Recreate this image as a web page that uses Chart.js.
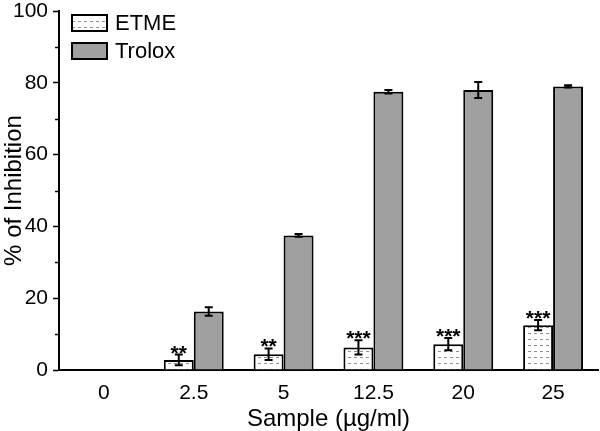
<!DOCTYPE html>
<html>
<head>
<meta charset="utf-8">
<script src="https://cdn.jsdelivr.net/npm/chart.js@4/dist/chart.umd.min.js"></script>
<style>
  html, body { margin: 0; padding: 0; background: #fff; }
  #wrap { width: 600px; height: 431px; position: relative; }
</style>
</head>
<body>
<div id="wrap"><canvas id="inhibition"></canvas></div>
<script>
var doses = ["0", "2.5", "5", "12.5", "20", "25"];
var etmeValues = [0, 2.8, 4.4, 6.3, 7.2, 12.5];
var etmeErrors = [0, 1.5, 1.6, 2.0, 1.7, 1.4];
var etmeStars = ["", "**", "**", "***", "***", "***"];
var troloxValues = [0, 16.3, 37.5, 77.5, 78.0, 79.0];
var troloxErrors = [0, 1.2, 0.4, 0.5, 2.2, 0.3];

var fontFamily = "'Liberation Sans', Arial, sans-serif";

// white fill with faint dashed rows, like the hatch in the figure
function dashPattern() {
    var c = document.createElement("canvas");
    c.width = 6;
    c.height = 6;
    var g = c.getContext("2d");
    g.fillStyle = "#ffffff";
    g.fillRect(0, 0, 6, 6);
    g.fillStyle = "#8f8f8f";
    g.fillRect(0, 3, 3, 1);
    return g.createPattern(c, "repeat");
}

var errorBars = {
    id: "errorBars",
    afterDatasetsDraw: function (chart) {
        var ctx = chart.ctx;
        var y = chart.scales.y;
        ctx.save();
        ctx.strokeStyle = "#000";
        ctx.lineWidth = 2;
        chart.data.datasets.forEach(function (ds, i) {
            var meta = chart.getDatasetMeta(i);
            meta.data.forEach(function (bar, j) {
                var v = ds.data[j], e = ds.errors[j];
                if (!v) return;
                var top = y.getPixelForValue(v + e);
                var bot = y.getPixelForValue(v - e);
                var x = bar.x;
                ctx.beginPath();
                ctx.moveTo(x, top); ctx.lineTo(x, bot);
                ctx.moveTo(x - 4, top); ctx.lineTo(x + 4, top);
                ctx.moveTo(x - 4, bot); ctx.lineTo(x + 4, bot);
                ctx.stroke();
                if (ds.stars && ds.stars[j]) {
                    ctx.fillStyle = "#000";
                    ctx.font = "bold 21px " + fontFamily;
                    ctx.textAlign = "center";
                    ctx.textBaseline = "alphabetic";
                    ctx.fillText(ds.stars[j], x, top + 5);
                }
            });
        });
        ctx.restore();
    }
};

var minorTicks = {
    id: "minorTicks",
    afterDraw: function (chart) {
        var ctx = chart.ctx;
        var y = chart.scales.y;
        var left = chart.chartArea.left;
        ctx.save();
        ctx.strokeStyle = "#000";
        ctx.lineWidth = 1.5;
        for (var v = 10; v < 100; v += 20) {
            var py = Math.round(y.getPixelForValue(v)) + 0.5;
            ctx.beginPath();
            ctx.moveTo(left - 4, py);
            ctx.lineTo(left, py);
            ctx.stroke();
        }
        ctx.restore();
    }
};

var insideLegend = {
    id: "insideLegend",
    afterDraw: function (chart) {
        var ctx = chart.ctx;
        ctx.save();
        chart.data.datasets.forEach(function (ds, i) {
            var bx = 72, by = 15 + i * 28;
            ctx.fillStyle = ds.backgroundColor;
            ctx.fillRect(bx, by, 35, 16);
            ctx.strokeStyle = "#000";
            ctx.lineWidth = 2;
            ctx.strokeRect(bx, by, 35, 16);
            ctx.fillStyle = "#000";
            ctx.font = "22px " + fontFamily;
            ctx.textBaseline = "middle";
            ctx.textAlign = "left";
            ctx.fillText(ds.label, bx + 43, by + 9);
        });
        ctx.restore();
    }
};

var ctx = document.getElementById("inhibition");

var chart = new Chart(ctx, {
    type: "bar",
    data: {
        labels: doses,
        datasets: [
            {
                label: "ETME",
                data: etmeValues,
                errors: etmeErrors,
                stars: etmeStars,
                backgroundColor: dashPattern(),
                borderColor: "#000",
                borderWidth: 2,
                borderSkipped: "bottom"
            },
            {
                label: "Trolox",
                data: troloxValues,
                errors: troloxErrors,
                backgroundColor: "#a0a0a0",
                borderColor: "#000",
                borderWidth: 2,
                borderSkipped: "bottom"
            }
        ]
    },
    options: {
        responsive: true,
        maintainAspectRatio: false,
        animation: false,
        layout: { padding: { top: 11, right: 2, left: 0, bottom: 0 } },
        categoryPercentage: 0.667,
        barPercentage: 1.0,
        plugins: {
            legend: { display: false },
            tooltip: { enabled: false }
        },
        scales: {
            x: {
                grid: { display: false },
                border: { display: true, color: "#000", width: 2 },
                ticks: { color: "#000", font: { family: fontFamily, size: 21 }, padding: 3, maxRotation: 0 },
                title: {
                    display: true,
                    text: "Sample (µg/ml)",
                    color: "#000",
                    font: { family: fontFamily, size: 24 },
                    padding: { top: 0, bottom: -3 }
                },
                afterFit: function (scale) { scale.height = 61; }
            },
            y: {
                min: 0,
                max: 100,
                ticks: { stepSize: 20, color: "#000", font: { family: fontFamily, size: 21 }, padding: 5 },
                grid: { drawOnChartArea: false, tickLength: 6, color: "#000", tickWidth: 1.5 },
                border: { display: true, color: "#000", width: 2 },
                title: {
                    display: true,
                    text: "% of Inhibition",
                    color: "#000",
                    font: { family: fontFamily, size: 24 },
                    padding: { top: 0, bottom: 0 }
                },
                afterFit: function (scale) {
                    scale.width = 59;
                    scale.paddingTop = 0;
                    scale.paddingBottom = 0;
                }
            }
        }
    },
    plugins: [errorBars, minorTicks, insideLegend]
});
</script>
</body>
</html>
